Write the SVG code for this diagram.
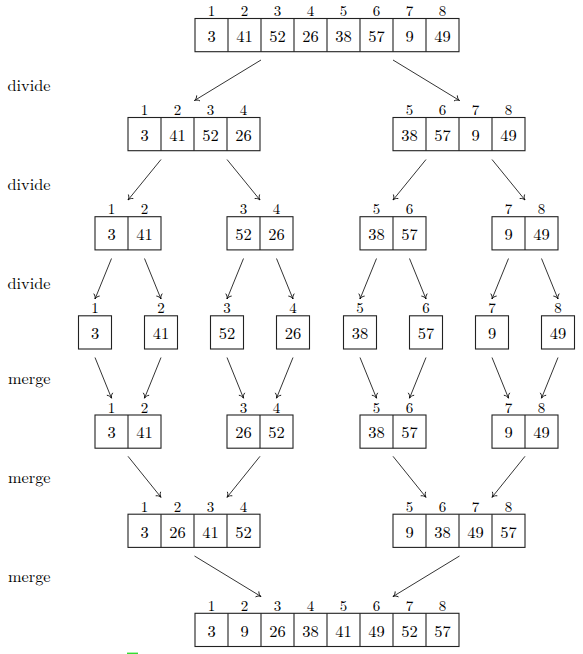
<svg xmlns="http://www.w3.org/2000/svg" width="583" height="654" viewBox="0 0 583 654">
<style>
.b{fill:#fff;stroke:#222;stroke-width:1.1}
.d{stroke:#222;stroke-width:1.1}
.v{font-size:16.5px;fill:#000;text-anchor:middle}
.i{font-size:15px;fill:#000;text-anchor:middle}
.s{font-size:16px;fill:#000}
.a{stroke:#000;stroke-width:0.8;fill:none;marker-end:url(#ah)}
</style>
<defs>
<marker id="ah" viewBox="-6 -5 7 10" refX="0" refY="0" markerWidth="7" markerHeight="10" markerUnits="userSpaceOnUse" orient="auto">
<path d="M-4.5,-3.2 C-3.4,-1.2 -1.5,-0.3 0,0 C-1.5,0.3 -3.4,1.2 -4.5,3.2" fill="none" stroke="#000" stroke-width="0.8"/>
</marker>
</defs>
<rect width="583" height="654" fill="#fff"/>
<g font-family="'CMU Serif', 'Latin Modern Roman', 'TeX Gyre Termes', 'Noto Serif', 'Tinos', 'FreeSerif', 'Nimbus Roman', 'Liberation Serif', 'DejaVu Serif', serif">
<g id="labels">
<text class="s" x="7.5" y="90.7" textLength="43" lengthAdjust="spacingAndGlyphs">divide</text>
<text class="s" x="7.5" y="189.8" textLength="43" lengthAdjust="spacingAndGlyphs">divide</text>
<text class="s" x="7.5" y="289" textLength="43" lengthAdjust="spacingAndGlyphs">divide</text>
<text class="s" x="8" y="384.2" textLength="42.5" lengthAdjust="spacingAndGlyphs">merge</text>
<text class="s" x="8" y="483.3" textLength="42.5" lengthAdjust="spacingAndGlyphs">merge</text>
<text class="s" x="8" y="582" textLength="42.5" lengthAdjust="spacingAndGlyphs">merge</text>
</g>

<g id="r0">
<rect class="b" x="195" y="18.5" width="264" height="33.2"/>
<path class="d" d="M228,18.5V51.7M261,18.5V51.7M294,18.5V51.7M327,18.5V51.7M360,18.5V51.7M393,18.5V51.7M426,18.5V51.7"/>
<text class="i" y="16"><tspan x="211.5">1</tspan><tspan x="244.5">2</tspan><tspan x="277.5">3</tspan><tspan x="310.5">4</tspan><tspan x="343.5">5</tspan><tspan x="376.5">6</tspan><tspan x="409.5">7</tspan><tspan x="442.5">8</tspan></text>
<text class="v" y="41.8"><tspan x="211.5">3</tspan><tspan x="244.5">41</tspan><tspan x="277.5">52</tspan><tspan x="310.5">26</tspan><tspan x="343.5">38</tspan><tspan x="376.5">57</tspan><tspan x="409.5">9</tspan><tspan x="442.5">49</tspan></text>
</g>

<g id="r1a">
<rect class="b" x="128" y="117.5" width="132" height="33.2"/>
<path class="d" d="M161,117.5V150.7M194,117.5V150.7M227,117.5V150.7"/>
<text class="i" y="115"><tspan x="144.5">1</tspan><tspan x="177.5">2</tspan><tspan x="210.5">3</tspan><tspan x="243.5">4</tspan></text>
<text class="v" y="140.8"><tspan x="144.5">3</tspan><tspan x="177.5">41</tspan><tspan x="210.5">52</tspan><tspan x="243.5">26</tspan></text>
</g>
<g id="r1b">
<rect class="b" x="393" y="117.5" width="132" height="33.2"/>
<path class="d" d="M426,117.5V150.7M459,117.5V150.7M492,117.5V150.7"/>
<text class="i" y="115"><tspan x="409.5">5</tspan><tspan x="442.5">6</tspan><tspan x="475.5">7</tspan><tspan x="508.5">8</tspan></text>
<text class="v" y="140.8"><tspan x="409.5">38</tspan><tspan x="442.5">57</tspan><tspan x="475.5">9</tspan><tspan x="508.5">49</tspan></text>
</g>

<g id="r2a">
<rect class="b" x="95" y="216.7" width="66" height="33.2"/>
<path class="d" d="M128,216.7V249.9"/>
<text class="i" y="214.2"><tspan x="111.5">1</tspan><tspan x="144.5">2</tspan></text>
<text class="v" y="240"><tspan x="111.5">3</tspan><tspan x="144.5">41</tspan></text>
</g>
<g id="r2b">
<rect class="b" x="227" y="216.7" width="66" height="33.2"/>
<path class="d" d="M260,216.7V249.9"/>
<text class="i" y="214.2"><tspan x="243.5">3</tspan><tspan x="276.5">4</tspan></text>
<text class="v" y="240"><tspan x="243.5">52</tspan><tspan x="276.5">26</tspan></text>
</g>
<g id="r2c">
<rect class="b" x="360" y="216.7" width="66" height="33.2"/>
<path class="d" d="M393,216.7V249.9"/>
<text class="i" y="214.2"><tspan x="376.5">5</tspan><tspan x="409.5">6</tspan></text>
<text class="v" y="240"><tspan x="376.5">38</tspan><tspan x="409.5">57</tspan></text>
</g>
<g id="r2d">
<rect class="b" x="492" y="216.7" width="66" height="33.2"/>
<path class="d" d="M525,216.7V249.9"/>
<text class="i" y="214.2"><tspan x="508.5">7</tspan><tspan x="541.5">8</tspan></text>
<text class="v" y="240"><tspan x="508.5">9</tspan><tspan x="541.5">49</tspan></text>
</g>

<g id="r3">
<g id="r3-1"><rect class="b" x="78.5" y="315.8" width="33" height="33.2"/><text class="i" x="95" y="313.3">1</text><text class="v" x="95" y="339.1">3</text></g>
<g id="r3-2"><rect class="b" x="144.5" y="315.8" width="33" height="33.2"/><text class="i" x="161" y="313.3">2</text><text class="v" x="161" y="339.1">41</text></g>
<g id="r3-3"><rect class="b" x="210.5" y="315.8" width="33" height="33.2"/><text class="i" x="227" y="313.3">3</text><text class="v" x="227" y="339.1">52</text></g>
<g id="r3-4"><rect class="b" x="276.5" y="315.8" width="33" height="33.2"/><text class="i" x="293" y="313.3">4</text><text class="v" x="293" y="339.1">26</text></g>
<g id="r3-5"><rect class="b" x="343.5" y="315.8" width="33" height="33.2"/><text class="i" x="360" y="313.3">5</text><text class="v" x="360" y="339.1">38</text></g>
<g id="r3-6"><rect class="b" x="409.5" y="315.8" width="33" height="33.2"/><text class="i" x="426" y="313.3">6</text><text class="v" x="426" y="339.1">57</text></g>
<g id="r3-7"><rect class="b" x="475.5" y="315.8" width="33" height="33.2"/><text class="i" x="492" y="313.3">7</text><text class="v" x="492" y="339.1">9</text></g>
<g id="r3-8"><rect class="b" x="541.5" y="315.8" width="33" height="33.2"/><text class="i" x="558" y="313.3">8</text><text class="v" x="558" y="339.1">49</text></g>
</g>

<g id="r4a">
<rect class="b" x="95" y="415" width="66" height="33.2"/>
<path class="d" d="M128,415V448.2"/>
<text class="i" y="412.5"><tspan x="111.5">1</tspan><tspan x="144.5">2</tspan></text>
<text class="v" y="438.3"><tspan x="111.5">3</tspan><tspan x="144.5">41</tspan></text>
</g>
<g id="r4b">
<rect class="b" x="227" y="415" width="66" height="33.2"/>
<path class="d" d="M260,415V448.2"/>
<text class="i" y="412.5"><tspan x="243.5">3</tspan><tspan x="276.5">4</tspan></text>
<text class="v" y="438.3"><tspan x="243.5">26</tspan><tspan x="276.5">52</tspan></text>
</g>
<g id="r4c">
<rect class="b" x="360" y="415" width="66" height="33.2"/>
<path class="d" d="M393,415V448.2"/>
<text class="i" y="412.5"><tspan x="376.5">5</tspan><tspan x="409.5">6</tspan></text>
<text class="v" y="438.3"><tspan x="376.5">38</tspan><tspan x="409.5">57</tspan></text>
</g>
<g id="r4d">
<rect class="b" x="492" y="415" width="66" height="33.2"/>
<path class="d" d="M525,415V448.2"/>
<text class="i" y="412.5"><tspan x="508.5">7</tspan><tspan x="541.5">8</tspan></text>
<text class="v" y="438.3"><tspan x="508.5">9</tspan><tspan x="541.5">49</tspan></text>
</g>

<g id="r5a">
<rect class="b" x="128" y="514.2" width="132" height="33.2"/>
<path class="d" d="M161,514.2V547.4M194,514.2V547.4M227,514.2V547.4"/>
<text class="i" y="511.7"><tspan x="144.5">1</tspan><tspan x="177.5">2</tspan><tspan x="210.5">3</tspan><tspan x="243.5">4</tspan></text>
<text class="v" y="537.5"><tspan x="144.5">3</tspan><tspan x="177.5">26</tspan><tspan x="210.5">41</tspan><tspan x="243.5">52</tspan></text>
</g>
<g id="r5b">
<rect class="b" x="393" y="514.2" width="132" height="33.2"/>
<path class="d" d="M426,514.2V547.4M459,514.2V547.4M492,514.2V547.4"/>
<text class="i" y="511.7"><tspan x="409.5">5</tspan><tspan x="442.5">6</tspan><tspan x="475.5">7</tspan><tspan x="508.5">8</tspan></text>
<text class="v" y="537.5"><tspan x="409.5">9</tspan><tspan x="442.5">38</tspan><tspan x="475.5">49</tspan><tspan x="508.5">57</tspan></text>
</g>

<g id="r6">
<rect class="b" x="195" y="613.3" width="264" height="33.2"/>
<path class="d" d="M228,613.3V646.5M261,613.3V646.5M294,613.3V646.5M327,613.3V646.5M360,613.3V646.5M393,613.3V646.5M426,613.3V646.5"/>
<text class="i" y="610.8"><tspan x="211.5">1</tspan><tspan x="244.5">2</tspan><tspan x="277.5">3</tspan><tspan x="310.5">4</tspan><tspan x="343.5">5</tspan><tspan x="376.5">6</tspan><tspan x="409.5">7</tspan><tspan x="442.5">8</tspan></text>
<text class="v" y="636.6"><tspan x="211.5">3</tspan><tspan x="244.5">9</tspan><tspan x="277.5">26</tspan><tspan x="310.5">38</tspan><tspan x="343.5">41</tspan><tspan x="376.5">49</tspan><tspan x="409.5">52</tspan><tspan x="442.5">57</tspan></text>
</g>
</g>

<g id="connectors">
<path class="a" d="M261,60L194.5,100.5"/>
<path class="a" d="M393,60L459.5,100.5"/>
<path class="a" d="M161,159.5L128,200"/>
<path class="a" d="M227,159.5L260,200"/>
<path class="a" d="M426,159.5L393,200"/>
<path class="a" d="M492,159.5L525,200"/>
<path class="a" d="M111.5,258.5L95,299"/>
<path class="a" d="M144.5,258.5L161,299"/>
<path class="a" d="M243.5,258.5L227,299"/>
<path class="a" d="M276.5,258.5L293,299"/>
<path class="a" d="M376.5,258.5L360,299"/>
<path class="a" d="M409.5,258.5L426,299"/>
<path class="a" d="M508.5,258.5L492,299"/>
<path class="a" d="M541.5,258.5L558,299"/>
<path class="a" d="M95,357.5L111.5,398.2"/>
<path class="a" d="M161,357.5L144.5,398.2"/>
<path class="a" d="M227,357.5L243.5,398.2"/>
<path class="a" d="M293,357.5L276.5,398.2"/>
<path class="a" d="M360,357.5L376.5,398.2"/>
<path class="a" d="M426,357.5L409.5,398.2"/>
<path class="a" d="M492,357.5L508.5,398.2"/>
<path class="a" d="M558,357.5L541.5,398.2"/>
<path class="a" d="M128,456.3L161,497.3"/>
<path class="a" d="M260,456.3L227,497.3"/>
<path class="a" d="M393,456.3L426,497.3"/>
<path class="a" d="M525,456.3L492,497.3"/>
<path class="a" d="M194.5,556L261,596.5"/>
<path class="a" d="M459.5,556L393,596.5"/>
</g>

<rect x="127" y="652.6" width="11" height="1.4" fill="#33dd33"/>
</svg>
